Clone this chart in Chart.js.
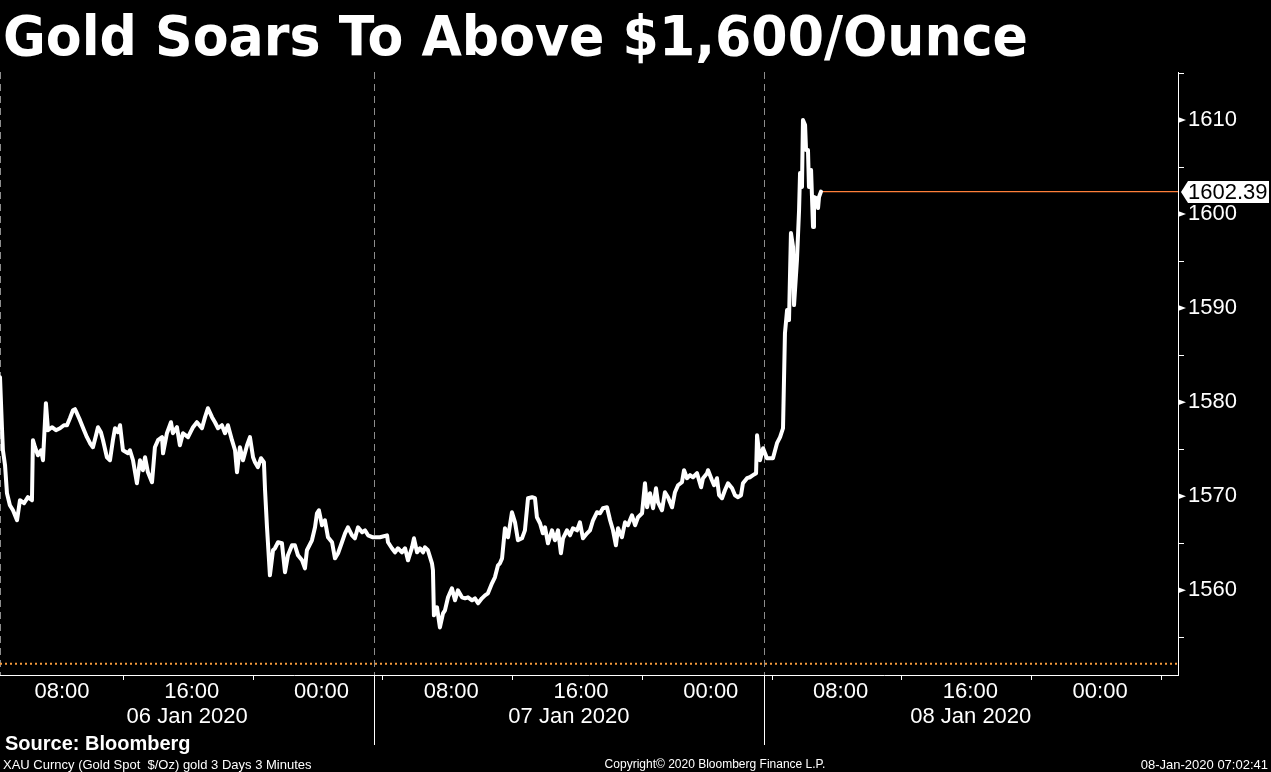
<!DOCTYPE html>
<html>
<head>
<meta charset="utf-8">
<script src="https://cdn.jsdelivr.net/npm/chart.js@4.4.1/dist/chart.umd.min.js"></script>
<style>
  html, body { margin: 0; padding: 0; background: #000; }
  #wrap { position: relative; width: 1271px; height: 772px; overflow: hidden; background: #000; }
  #chart { position: absolute; left: 0; top: 0; }
  .txt { position: absolute; color: #fff; white-space: nowrap; font-family: "Liberation Sans", Arial, sans-serif; line-height: 1; }
  #title { left: 3px; top: 9px; font: bold 55px "DejaVu Sans"; line-height: 55px; transform-origin: 0 0; }
  #source { left: 5px; top: 733px; font-weight: bold; font-size: 20px; }
  #info { left: 3px; top: 758px; font-size: 13px; }
  #copy { left: 715px; top: 758px; font-size: 12px; transform: translateX(-50%); }
  #stamp { right: 3px; top: 758px; font-size: 13px; }
</style>
</head>
<body onload="onload()">
<div id="wrap">
  <canvas id="chart" width="1271" height="772"></canvas>
  <div class="txt" id="title">Gold Soars To Above $1,600/Ounce</div>
  <div class="txt" id="source">Source: Bloomberg</div>
  <div class="txt" id="info">XAU Curncy (Gold Spot&nbsp;&nbsp;$/Oz) gold 3 Days 3 Minutes</div>
  <div class="txt" id="copy">Copyright© 2020 Bloomberg Finance L.P.</div>
  <div class="txt" id="stamp">08-Jan-2020 07:02:41</div>
</div>
<script>
function $(id) {
  return document.getElementById(id);
}

// hours since 06 Jan 2020 00:00
hours = [4.18,4.30,4.36,4.49,4.61,4.79,4.98,5.23,5.41,5.66,5.90,6.15,6.21,6.34,6.52,6.71,6.83,7.01,7.14,7.38,
  7.63,7.88,8.12,8.31,8.49,8.68,8.80,8.92,9.11,9.36,9.54,9.73,9.91,10.10,10.22,10.40,10.53,10.77,10.96,11.14,
  11.27,11.45,11.58,11.76,12.07,12.19,12.38,12.62,12.81,12.99,13.12,13.30,13.55,13.73,13.92,14.17,14.23,14.47,14.72,14.84,
  15.09,15.27,15.46,15.77,16.08,16.32,16.63,16.82,17.00,17.25,17.43,17.62,17.86,18.05,18.23,18.48,18.67,18.79,18.97,19.16,
  19.41,19.59,19.78,19.90,20.08,20.27,20.45,20.52,20.64,20.82,21.01,21.13,21.32,21.56,21.75,21.93,22.18,22.36,22.55,22.80,
  22.98,23.10,23.41,23.60,23.72,23.84,24.03,24.21,24.40,24.65,24.83,25.02,25.26,25.45,25.63,25.88,26.06,26.25,26.50,26.68,
  26.87,27.17,27.60,28.04,28.10,28.34,28.53,28.71,28.96,29.15,29.33,29.58,29.70,29.89,30.07,30.26,30.38,30.56,30.81,30.87,
  30.93,31.12,31.30,31.49,31.61,31.80,32.04,32.23,32.41,32.66,32.85,33.03,33.28,33.46,33.65,33.89,34.08,34.26,34.51,34.69,
  34.88,35.00,35.13,35.31,35.50,35.74,35.93,36.11,36.36,36.54,36.73,36.98,37.16,37.28,37.47,37.65,37.78,37.96,38.21,38.39,
  38.58,38.76,38.89,39.13,39.32,39.50,39.75,39.93,40.12,40.37,40.55,40.74,40.98,41.17,41.35,41.60,41.79,41.97,42.15,42.28,
  42.52,42.71,42.89,43.14,43.33,43.51,43.76,43.94,44.07,44.25,44.44,44.62,44.74,44.99,45.17,45.36,45.61,45.79,45.98,46.22,
  46.35,46.53,46.72,46.90,47.15,47.40,47.52,47.77,47.83,48.07,48.20,48.38,48.51,48.69,48.87,49.06,49.31,49.49,49.68,49.86,
  49.98,50.23,50.41,50.60,50.79,50.85,51.03,51.22,51.46,51.83,52.08,52.27,52.45,52.57,52.70,52.82,52.94,53.07,53.13,53.31,
  53.44,53.50,53.62,53.68,53.81,53.87,53.99,54.05,54.18,54.30,54.36,54.49,54.61,54.67,54.79];

prices = [1582.66,1577.34,1574.89,1573.30,1570.32,1569.05,1568.51,1567.45,1569.58,1569.26,1569.90,1569.58,1575.96,1575.21,1574.36,1574.89,1573.83,1579.90,1577.02,1577.34,
  1577.02,1577.23,1577.55,1577.55,1578.30,1579.15,1579.26,1578.83,1578.09,1577.02,1576.28,1575.64,1575.21,1576.49,1577.34,1576.81,1575.96,1574.15,1573.83,1575.96,
  1577.23,1576.81,1577.55,1574.89,1574.57,1574.89,1573.83,1571.38,1573.83,1572.77,1574.15,1572.55,1571.49,1575.21,1575.96,1576.28,1574.57,1576.70,1577.87,1576.70,
  1577.34,1575.43,1576.70,1576.28,1577.34,1577.87,1577.23,1578.41,1579.36,1578.41,1577.87,1577.23,1577.55,1576.70,1577.55,1575.96,1574.89,1572.55,1575.21,1573.83,
  1575.43,1576.28,1574.15,1573.62,1573.09,1574.04,1573.62,1570.64,1566.70,1561.60,1564.26,1564.47,1565.11,1565.00,1561.92,1563.72,1564.79,1564.79,1563.72,1563.19,
  1562.34,1564.26,1565.32,1566.70,1568.19,1568.51,1566.92,1567.45,1565.64,1565.11,1563.40,1563.94,1565.11,1566.06,1566.70,1565.85,1565.53,1566.70,1566.17,1566.38,
  1565.85,1565.64,1565.64,1565.85,1565.11,1564.47,1564.04,1564.47,1564.04,1564.47,1563.19,1564.57,1565.53,1564.04,1564.47,1564.04,1564.57,1564.26,1562.87,1562.13,
  1557.34,1558.19,1556.06,1557.55,1557.87,1559.26,1560.21,1558.94,1560.00,1559.26,1559.15,1559.26,1558.94,1559.15,1558.62,1559.15,1559.47,1559.68,1560.75,1561.38,
  1562.66,1562.87,1563.40,1566.60,1565.64,1568.30,1567.23,1565.32,1565.53,1566.38,1569.79,1569.90,1569.79,1567.77,1567.13,1566.06,1566.70,1565.00,1566.38,1565.32,
  1566.38,1563.94,1565.53,1566.38,1565.85,1566.60,1566.38,1567.23,1565.53,1566.06,1566.38,1567.45,1568.30,1568.19,1568.73,1568.83,1567.45,1566.38,1564.79,1566.60,
  1565.64,1567.23,1566.92,1567.98,1566.92,1567.77,1568.19,1571.38,1568.83,1570.32,1568.73,1570.85,1569.37,1568.51,1570.43,1569.90,1568.83,1570.43,1571.17,1571.49,
  1572.77,1571.92,1572.24,1572.02,1572.45,1570.96,1571.92,1572.45,1572.77,1571.70,1571.17,1571.92,1570.11,1569.79,1570.64,1571.38,1570.85,1570.11,1569.90,1570.11,
  1571.38,1571.92,1572.02,1572.24,1572.45,1576.49,1573.83,1575.11,1574.04,1574.04,1575.64,1576.28,1577.23,1587.34,1589.79,1588.72,1597.98,1596.49,1590.32,1595.11,
  1600.43,1604.36,1602.87,1610.00,1609.47,1606.81,1606.81,1602.87,1604.68,1598.62,1601.81,1601.70,1600.64,1601.81,1602.39];

xTickHours = [8, 16, 24, 32, 40, 48, 56, 64, 72];
dayBreaks = [27.25, 51.25];
dayLabels = ["06 Jan 2020", "07 Jan 2020", "08 Jan 2020"];
yTicks = [1560, 1570, 1580, 1590, 1600, 1610];
lastPrice = 1602.39;
lowLevel = 1552.2;

xMin = 4.18;
xMax = 76.8;
yMin = 1551;
yMax = 1615.1;

ch = null;

function dayCenters() {
  const edges = [xMin, ...dayBreaks, xMax];
  return dayLabels.map((_, i) => (edges[i] + edges[i + 1]) / 2);
}

const decor = {
  id: "decor",
  beforeDatasetsDraw: (chart) => {
    const { ctx, chartArea: a } = chart;
    const x = chart.scales.x;
    ctx.save();
    ctx.strokeStyle = "#8c8c8c";
    ctx.lineWidth = 1;
    ctx.setLineDash([7, 5]);
    [xMin, ...dayBreaks].forEach((h) => {
      const px = Math.round(x.getPixelForValue(h)) + 0.5;
      ctx.beginPath();
      ctx.moveTo(px, a.top);
      ctx.lineTo(px, a.bottom);
      ctx.stroke();
    });
    ctx.restore();
  },
  afterDraw: (chart) => {
    const { ctx, chartArea: a } = chart;
    const x = chart.scales.x;
    const y = chart.scales.y;
    ctx.save();
    ctx.strokeStyle = "#fff";
    ctx.fillStyle = "#fff";
    ctx.lineWidth = 1;
    // small x ticks between labels
    xTickHours.forEach((h) => {
      const v = h + 3.75;
      if (v > xMax) return;
      const px = Math.round(x.getPixelForValue(v)) + 0.5;
      ctx.beginPath();
      ctx.moveTo(px, a.bottom);
      ctx.lineTo(px, a.bottom + 5);
      ctx.stroke();
    });
    // day separators in the axis
    dayBreaks.forEach((h) => {
      const px = Math.round(x.getPixelForValue(h)) + 0.5;
      ctx.beginPath();
      ctx.moveTo(px, a.bottom);
      ctx.lineTo(px, a.bottom + 70);
      ctx.stroke();
    });
    // y minor ticks
    for (let v = 1555; v <= yMax; v += 10) {
      const py = Math.round(y.getPixelForValue(v)) + 0.5;
      ctx.beginPath();
      ctx.moveTo(a.right, py);
      ctx.lineTo(a.right + 6, py);
      ctx.stroke();
    }
    // y major markers
    yTicks.forEach((v) => {
      const py = y.getPixelForValue(v);
      ctx.beginPath();
      ctx.moveTo(a.right, py - 3);
      ctx.lineTo(a.right + 8, py);
      ctx.lineTo(a.right, py + 3);
      ctx.closePath();
      ctx.fill();
    });
    // last price tag
    const py = Math.round(y.getPixelForValue(lastPrice));
    ctx.beginPath();
    ctx.moveTo(a.right + 3, py);
    ctx.lineTo(a.right + 10, py - 11);
    ctx.lineTo(chart.width - 2, py - 11);
    ctx.lineTo(chart.width - 2, py + 11);
    ctx.lineTo(a.right + 10, py + 11);
    ctx.closePath();
    ctx.fill();
    ctx.fillStyle = "#000";
    ctx.font = '22px "Liberation Sans"';
    ctx.textBaseline = "middle";
    ctx.textAlign = "left";
    ctx.fillText(lastPrice.toFixed(2), a.right + 10, py + 1);
    ctx.restore();
  },
};

function pad(n) {
  return (n < 10 ? "0" : "") + n;
}

function onload() {
  const t = $("title");
  const w = t.getBoundingClientRect().width;
  t.style.transform = "scaleX(" + 1025 / w + ")";

  const n = Math.min(hours.length, prices.length);
  const pts = [];
  for (let i = 0; i < n; i++) pts.push({ x: hours[i], y: prices[i] });
  const lastHour = hours[n - 1];

  const font = { family: "Liberation Sans", size: 22 };
  const noGrid = { display: true, color: "rgba(0,0,0,0)", drawTicks: false };

  ch = new Chart($("chart"), {
    type: "line",
    data: {
      datasets: [
        {
          data: pts,
          borderColor: "#fff",
          borderWidth: 4,
          pointRadius: 0,
          tension: 0,
          borderJoinStyle: "round",
          borderCapStyle: "round",
          order: 0,
        },
        {
          data: [{ x: lastHour, y: lastPrice }, { x: xMax, y: lastPrice }],
          borderColor: "#ff7f3a",
          borderWidth: 1.3,
          pointRadius: 0,
          order: 1,
        },
        {
          data: [{ x: xMin, y: lowLevel }, { x: xMax, y: lowLevel }],
          borderColor: "#f59a3c",
          borderWidth: 2,
          borderDash: [2, 3],
          pointRadius: 0,
          order: 2,
        },
      ],
    },
    options: {
      responsive: false,
      animation: false,
      devicePixelRatio: 1,
      layout: { padding: { top: 72, left: 0, right: 0, bottom: 27 } },
      plugins: { legend: { display: false }, tooltip: { enabled: false } },
      scales: {
        x: {
          type: "linear",
          position: "bottom",
          min: xMin,
          max: xMax,
          grid: noGrid,
          border: { display: true, color: "#fff", width: 1 },
          ticks: {
            color: "#fff",
            font: font,
            padding: 4,
            maxRotation: 0,
            autoSkip: false,
            callback: (v) => pad(v % 24) + ":00",
          },
          afterBuildTicks: (s) => {
            s.ticks = xTickHours.map((v) => ({ value: v }));
          },
          afterFit: (s) => {
            s.height = 28;
          },
        },
        xd: {
          type: "linear",
          position: "bottom",
          weight: 1,
          min: xMin,
          max: xMax,
          grid: noGrid,
          border: { display: false },
          ticks: {
            color: "#fff",
            font: font,
            padding: 1,
            maxRotation: 0,
            autoSkip: false,
            callback: (v, i) => dayLabels[i],
          },
          afterBuildTicks: (s) => {
            s.ticks = dayCenters().map((v) => ({ value: v }));
          },
          afterFit: (s) => {
            s.height = 42;
          },
        },
        y: {
          position: "right",
          min: yMin,
          max: yMax,
          grid: noGrid,
          border: { display: true, color: "#fff", width: 1 },
          ticks: {
            color: "#fff",
            font: font,
            padding: 10,
            callback: (v) => String(v),
          },
          afterBuildTicks: (s) => {
            s.ticks = yTicks.map((v) => ({ value: v }));
          },
          afterFit: (s) => {
            s.width = 93;
          },
        },
      },
    },
    plugins: [decor],
  });
}
</script>
</body>
</html>
